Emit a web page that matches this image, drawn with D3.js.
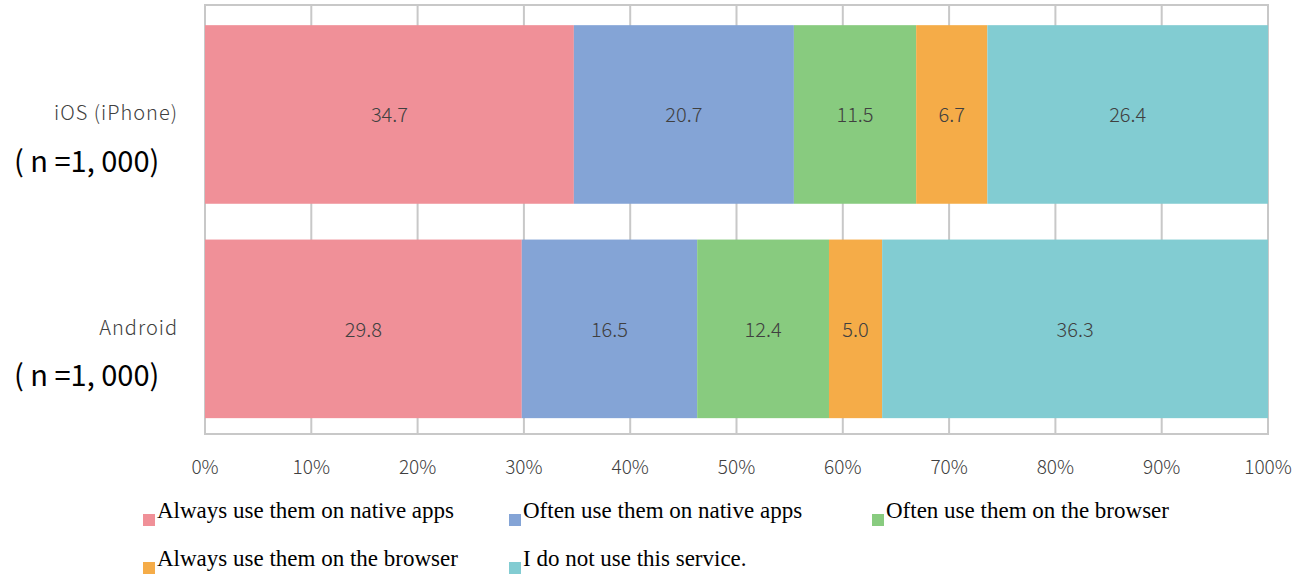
<!DOCTYPE html>
<html>
<head>
<meta charset="utf-8">
<script src="https://cdn.jsdelivr.net/npm/d3@7"></script>
<style>
  body { margin: 0; background: #fff; }
  svg { display: block; }
</style>
</head>
<body>
<script>
const categories = ["iOS (iPhone)", "Android"];
const sampleLabels = ["( n =1, 000)", "( n =1, 000)"];
const seriesNames = [
  "Always use them on native apps",
  "Often use them on native apps",
  "Often use them on the browser",
  "Always use them on the browser",
  "I do not use this service."
];
const iosValues = [34.7, 20.7, 11.5, 6.7, 26.4];
const androidValues = [29.8, 16.5, 12.4, 5.0, 36.3];
const tickValues = [0, 10, 20, 30, 40, 50, 60, 70, 80, 90, 100];
const colors = ["#f09098", "#84a4d6", "#88cb7f", "#f5ac48", "#82ccd2"];

const w = 1297, h = 575;
const plotL = 205, plotR = 1268, plotT = 5, plotB = 434;
const svg = d3.select("body").append("svg").attr("width", w).attr("height", h);

const x = d3.scaleLinear().domain([0, 100]).range([plotL, plotR]);
const y = d3.scaleBand().domain(categories).range([plotT, plotB])
  .paddingInner(0.167).paddingOuter(0.084).align(0.56);
const color = d3.scaleOrdinal().domain(seriesNames).range(colors);

const rows = [iosValues, androidValues].map((vals, i) => {
  let acc = 0;
  return vals.map((v, j) => {
    const d = { cat: categories[i], name: seriesNames[j], v: v, x0: acc, x1: acc + v };
    acc += v;
    return d;
  });
});

// grid
svg.append("g").selectAll("line").data(tickValues).enter().append("line")
  .attr("x1", d => x(d)).attr("x2", d => x(d))
  .attr("y1", plotT).attr("y2", plotB)
  .attr("stroke", "#c8c8c8").attr("stroke-width", 2);
svg.append("rect").attr("x", plotL).attr("y", plotT)
  .attr("width", plotR - plotL).attr("height", plotB - plotT)
  .attr("fill", "none").attr("stroke", "#c8c8c8").attr("stroke-width", 2);

// bars
const segs = svg.append("g").selectAll("g").data(rows.flat()).enter().append("g");
segs.append("rect")
  .attr("x", d => x(d.x0)).attr("y", d => y(d.cat))
  .attr("width", d => x(d.x1) - x(d.x0)).attr("height", y.bandwidth())
  .attr("fill", d => color(d.name));
segs.append("text")
  .attr("x", d => (x(d.x0) + x(d.x1)) / 2)
  .attr("y", d => y(d.cat) + y.bandwidth() / 2 + 1)
  .attr("dy", "0.35em").attr("text-anchor", "middle")
  .attr("font-family", "'Noto Sans CJK JP', 'DejaVu Sans', sans-serif")
  .attr("font-weight", 300)
  .attr("font-size", 20).attr("fill", "#404040")
  .text(d => d.v.toFixed(1));

// x axis labels
svg.append("g").selectAll("text").data(tickValues).enter().append("text")
  .attr("x", d => x(d)).attr("y", 467).attr("dy", "0.35em")
  .attr("text-anchor", "middle")
  .attr("font-family", "'Noto Sans CJK JP', 'DejaVu Sans', sans-serif")
  .attr("font-weight", 300)
  .attr("font-size", 19).attr("fill", "#404040")
  .text(d => d + "%");

// category labels
const catG = svg.append("g").selectAll("g").data(categories).enter().append("g");
catG.append("text")
  .attr("x", 178).attr("y", d => y(d) + y.bandwidth() / 2 - 1).attr("dy", "0.35em")
  .attr("text-anchor", "end")
  .attr("font-family", "'Noto Sans CJK JP', 'DejaVu Sans', sans-serif")
  .attr("font-weight", 300).attr("letter-spacing", 1)
  .attr("font-size", 20).attr("fill", "#404040")
  .text(d => d);
catG.append("text")
  .attr("x", 14).attr("y", d => y(d) + y.bandwidth() / 2 + 47).attr("dy", "0.35em")
  .attr("font-family", "'Noto Sans CJK JP', 'DejaVu Sans', sans-serif")
  .attr("font-size", 29).attr("fill", "#000")
  .text((d, i) => sampleLabels[i]);

// legend
const legendPos = [[143, 518], [509, 518], [872, 518], [143, 566], [509, 566]];
const lg = svg.append("g").selectAll("g").data(seriesNames).enter().append("g")
  .attr("transform", (d, i) => `translate(${legendPos[i][0]},${legendPos[i][1]})`);
lg.append("rect").attr("x", 0).attr("y", -4).attr("width", 12).attr("height", 12)
  .attr("fill", d => color(d));
lg.append("text").attr("x", 14).attr("y", 0)
  .attr("font-family", "'Liberation Serif', 'Times New Roman', serif")
  .attr("font-size", 23).attr("fill", "#000")
  .text(d => d);
</script>
</body>
</html>
